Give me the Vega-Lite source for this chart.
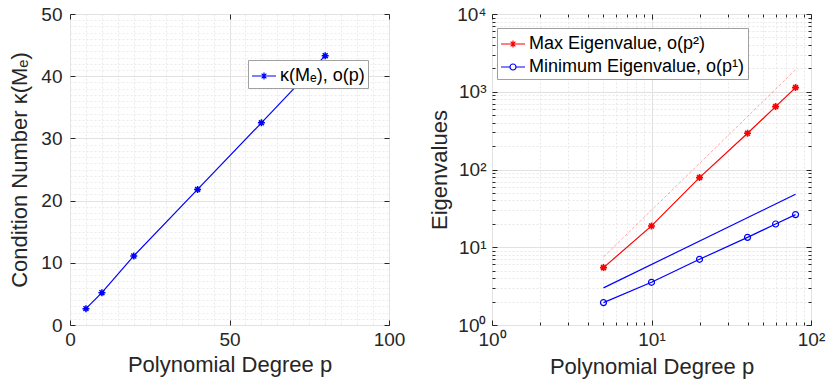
{
  "$schema": "https://vega.github.io/schema/vega-lite/v6.json",
  "padding": {"left": 8, "top": 4, "right": 0, "bottom": 4},
  "spacing": 22,
  "resolve": {"scale": {"color": "independent"}, "legend": {"color": "independent"}},
  "config": {
    "font": "Liberation Sans",
    "view": {"stroke": "#9a9a9a", "strokeWidth": 1},
    "axis": {
      "labelFont": "Liberation Sans",
      "labelFontSize": 19,
      "labelColor": "#262626",
      "titleFont": "Liberation Sans",
      "titleFontSize": 22,
      "titleFontWeight": "normal",
      "titleColor": "#262626",
      "tickColor": "#262626",
      "tickWidth": 1,
      "domain": false,
      "labelFlush": false,
      "labelOverlap": false,
      "labelPadding": 10,
      "titlePadding": 5
    },
    "legend": {
      "labelFont": "Liberation Sans",
      "labelFontSize": 18,
      "labelColor": "#000000",
      "strokeColor": "#a0a0a0",
      "fillColor": "#ffffff",
      "padding": 3,
      "rowPadding": 1,
      "labelOffset": 3,
      "labelLimit": 400,
      "symbolSize": 576,
      "symbolStrokeWidth": 1.2
    }
  },
  "hconcat": [
    {
      "width": 319,
      "height": 311,
      "data": {"values": [
        {"p": 5, "kappa": 2.63, "series": "κ(Mₑ), o(p)"},
        {"p": 10, "kappa": 5.2, "series": "κ(Mₑ), o(p)"},
        {"p": 20, "kappa": 11.1, "series": "κ(Mₑ), o(p)"},
        {"p": 40, "kappa": 21.8, "series": "κ(Mₑ), o(p)"},
        {"p": 60, "kappa": 32.5, "series": "κ(Mₑ), o(p)"},
        {"p": 80, "kappa": 43.3, "series": "κ(Mₑ), o(p)"}
      ]},
      "layer": [
        {
          "mark": {"type": "line", "strokeWidth": 1.2},
          "encoding": {
            "x": {"field": "p", "type": "quantitative", "scale": {"domain": [0, 100], "nice": false},
              "axis": {
                "title": "Polynomial Degree p",
                "values": [0,5,10,15,20,25,30,35,40,45,50,55,60,65,70,75,80,85,90,95,100],
                "labelExpr": "datum.value % 50 === 0 ? datum.label : ''",
                "grid": true,
                "gridColor": {"condition": {"test": "datum.value % 50 === 0", "value": "#e2e2e2"}, "value": "#e8e8e8"},
                "gridDash": {"condition": {"test": "datum.value % 50 === 0", "value": []}, "value": [2, 2]},
                "tickSize": -5,
                "tickColor": {"condition": {"test": "datum.value % 50 === 0", "value": "#262626"}, "value": "transparent"}
              }},
            "y": {"field": "kappa", "type": "quantitative", "scale": {"domain": [0, 50], "nice": false},
              "axis": {
                "title": "Condition Number κ(Mₑ)",
                "labelPadding": 13,
                "titlePadding": 9,
                "values": [0,1,2,3,4,5,6,7,8,9,10,11,12,13,14,15,16,17,18,19,20,21,22,23,24,25,26,27,28,29,30,31,32,33,34,35,36,37,38,39,40,41,42,43,44,45,46,47,48,49,50],
                "labelExpr": "datum.value % 10 === 0 ? datum.label : ''",
                "grid": true,
                "gridColor": {"condition": {"test": "datum.value % 10 === 0", "value": "#e2e2e2"}, "value": "#ececec"},
                "gridDash": {"condition": {"test": "datum.value % 10 === 0", "value": []}, "value": [2, 2]},
                "tickSize": -5,
                "tickColor": {"condition": {"test": "datum.value % 10 === 0", "value": "#262626"}, "value": "transparent"}
              }},
            "color": {"field": "series", "type": "nominal", "scale": {"range": ["#0000ff"]},
              "legend": {
                "orient": "none", "legendX": 178, "legendY": 46, "title": null,
                "symbolType": "M-1,0H1M-0.29,0H0.29M0,-0.29V0.29M-0.2,-0.2L0.2,0.2M-0.2,0.2L0.2,-0.2"
              }}
          }
        },
        {
          "mark": {"type": "point", "shape": "M-1,0H1M0,-1V1M-0.7,-0.7L0.7,0.7M-0.7,0.7L0.7,-0.7", "filled": false, "color": "#0000ff", "size": 49, "strokeWidth": 1.5, "opacity": 1},
          "encoding": {
            "x": {"field": "p", "type": "quantitative",
              "axis": {"orient": "top", "title": null, "labels": false, "grid": false, "values": [0, 50, 100], "tickSize": -5}},
            "y": {"field": "kappa", "type": "quantitative",
              "axis": {"orient": "right", "title": null, "labels": false, "grid": false, "values": [0,10,20,30,40,50], "tickSize": -5}}
          }
        }
      ],
      "resolve": {"axis": {"x": "independent", "y": "independent"}}
    },
    {
      "width": 319,
      "height": 311,
      "data": {"values": [
        {"p": 5, "v": 5.47, "s": "Max Eigenvalue, o(p²)"},
        {"p": 10, "v": 18.8, "s": "Max Eigenvalue, o(p²)"},
        {"p": 20, "v": 78.7, "s": "Max Eigenvalue, o(p²)"},
        {"p": 40, "v": 292, "s": "Max Eigenvalue, o(p²)"},
        {"p": 60, "v": 644, "s": "Max Eigenvalue, o(p²)"},
        {"p": 80, "v": 1131, "s": "Max Eigenvalue, o(p²)"},
        {"p": 5, "v": 1.94, "s": "Minimum Eigenvalue, o(p¹)"},
        {"p": 10, "v": 3.54, "s": "Minimum Eigenvalue, o(p¹)"},
        {"p": 20, "v": 7.0, "s": "Minimum Eigenvalue, o(p¹)"},
        {"p": 40, "v": 13.4, "s": "Minimum Eigenvalue, o(p¹)"},
        {"p": 60, "v": 19.9, "s": "Minimum Eigenvalue, o(p¹)"},
        {"p": 80, "v": 26.3, "s": "Minimum Eigenvalue, o(p¹)"},
        {"p": 5, "v": 7.5, "s": "ref max"},
        {"p": 80, "v": 1920, "s": "ref max"},
        {"p": 5, "v": 3.0, "s": "ref min"},
        {"p": 80, "v": 48, "s": "ref min"}
      ]},
      "layer": [
        {
          "transform": [{"filter": "datum.s === 'ref max'"}],
          "mark": {"type": "line", "color": "#ff0000", "strokeWidth": 1, "opacity": 0.35, "strokeDash": [3, 2]},
          "encoding": {
            "x": {"field": "p", "type": "quantitative",
              "axis": {"orient": "top", "title": null, "labels": false, "grid": false,
                "values": [1,2,3,4,5,6,7,8,9,10,20,30,40,50,60,70,80,90,100],
                "tickSize": {"condition": {"test": "indexof([1,10,100], datum.value) >= 0", "value": -5}, "value": -3}}},
            "y": {"field": "v", "type": "quantitative",
              "axis": {"orient": "right", "title": null, "labels": false, "grid": false,
                "values": [1,2,3,4,5,6,7,8,9,10,20,30,40,50,60,70,80,90,100,200,300,400,500,600,700,800,900,1000,2000,3000,4000,5000,6000,7000,8000,9000,10000],
                "tickSize": {"condition": {"test": "indexof([1,10,100,1000,10000], datum.value) >= 0", "value": -5}, "value": -3}}}
          }
        },
        {
          "transform": [{"filter": "datum.s === 'ref min'"}],
          "mark": {"type": "line", "color": "#0000ff", "strokeWidth": 1.2},
          "encoding": {
            "x": {"field": "p", "type": "quantitative", "axis": null},
            "y": {"field": "v", "type": "quantitative", "axis": null}
          }
        },
        {
          "transform": [{"filter": "datum.s !== 'ref max' && datum.s !== 'ref min'"}],
          "mark": {"type": "line", "strokeWidth": 1.2},
          "encoding": {
            "x": {"field": "p", "type": "quantitative", "scale": {"type": "log", "domain": [1, 100], "nice": false},
              "axis": {
                "title": "Polynomial Degree p",
                "values": [1,2,3,4,5,6,7,8,9,10,20,30,40,50,60,70,80,90,100],
                "labelExpr": "datum.value === 1 ? '10⁰' : datum.value === 10 ? '10¹' : datum.value === 100 ? '10²' : ''",
                "grid": true,
                "gridColor": {"condition": {"test": "indexof([1,10,100], datum.value) >= 0", "value": "#e2e2e2"}, "value": "#e8e8e8"},
                "gridDash": {"condition": {"test": "indexof([1,10,100], datum.value) >= 0", "value": []}, "value": [2, 2]},
                "tickSize": {"condition": {"test": "indexof([1,10,100], datum.value) >= 0", "value": -5}, "value": -3}
              }},
            "y": {"field": "v", "type": "quantitative", "scale": {"type": "log", "domain": [1, 10000], "nice": false},
              "axis": {
                "title": "Eigenvalues",
                "labelPadding": 11,
                "values": [1,2,3,4,5,6,7,8,9,10,20,30,40,50,60,70,80,90,100,200,300,400,500,600,700,800,900,1000,2000,3000,4000,5000,6000,7000,8000,9000,10000],
                "labelExpr": "datum.value === 1 ? '10⁰' : datum.value === 10 ? '10¹' : datum.value === 100 ? '10²' : datum.value === 1000 ? '10³' : datum.value === 10000 ? '10⁴' : ''",
                "grid": true,
                "gridColor": {"condition": {"test": "indexof([1,10,100,1000,10000], datum.value) >= 0", "value": "#e2e2e2"}, "value": "#e8e8e8"},
                "gridDash": {"condition": {"test": "indexof([1,10,100,1000,10000], datum.value) >= 0", "value": []}, "value": [2, 2]},
                "tickSize": {"condition": {"test": "indexof([1,10,100,1000,10000], datum.value) >= 0", "value": -5}, "value": -3}
              }},
            "color": {"field": "s", "type": "nominal",
              "scale": {"domain": ["Max Eigenvalue, o(p²)", "Minimum Eigenvalue, o(p¹)"], "range": ["#ff0000", "#0000ff"]},
              "legend": {
                "orient": "none", "legendX": 5, "legendY": 14, "title": null,
                "encoding": {"symbols": {
                  "shape": {"condition": {"test": "datum.value === 'Max Eigenvalue, o(p²)'", "value": "M-1,0H1M-0.29,0H0.29M0,-0.29V0.29M-0.2,-0.2L0.2,0.2M-0.2,0.2L0.2,-0.2"}, "value": "M-1,0H-0.25M0.25,0H1M-0.25,0A0.25,0.25 0 1,1 0.25,0A0.25,0.25 0 1,1 -0.25,0"},
                  "fill": {"value": "transparent"}
                }}
              }}
          }
        },
        {
          "transform": [{"filter": "datum.s === 'Max Eigenvalue, o(p²)'"}],
          "mark": {"type": "point", "shape": "M-1,0H1M0,-1V1M-0.7,-0.7L0.7,0.7M-0.7,0.7L0.7,-0.7", "filled": false, "color": "#ff0000", "size": 49, "strokeWidth": 1.6, "opacity": 1},
          "encoding": {
            "x": {"field": "p", "type": "quantitative", "axis": null},
            "y": {"field": "v", "type": "quantitative", "axis": null}
          }
        },
        {
          "transform": [{"filter": "datum.s === 'Minimum Eigenvalue, o(p¹)'"}],
          "mark": {"type": "point", "shape": "circle", "filled": false, "color": "#0000ff", "size": 36, "strokeWidth": 1.2, "opacity": 1},
          "encoding": {
            "x": {"field": "p", "type": "quantitative", "axis": null},
            "y": {"field": "v", "type": "quantitative", "axis": null}
          }
        }
      ],
      "resolve": {"axis": {"x": "independent", "y": "independent"}}
    }
  ]
}
